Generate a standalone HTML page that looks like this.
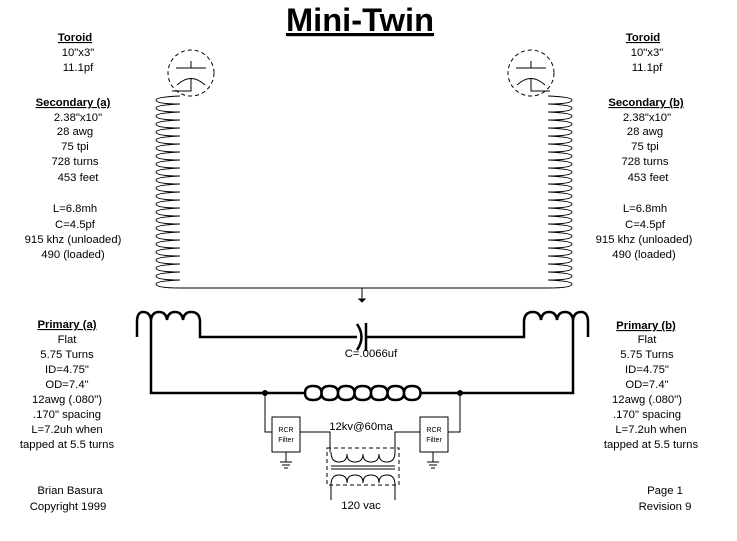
<!DOCTYPE html>
<html><head><meta charset="utf-8"><style>
body{margin:0;background:#fff;width:737px;height:541px;overflow:hidden;font-family:"Liberation Sans",Arial,sans-serif;}
svg{position:absolute;left:0;top:0}
.t{font-size:11.3px;fill:#000;text-anchor:middle}
.b{font-weight:bold;text-decoration:underline}
</style></head><body>
<svg width="737" height="541" viewBox="0 0 737 541" id="s">
<text x="360" y="31" text-anchor="middle" font-size="32" font-weight="bold" text-decoration="underline" textLength="148" lengthAdjust="spacingAndGlyphs">Mini-Twin</text>
<g class="t">
<text class="t b" x="75" y="41">Toroid</text>
<text class="t" x="78" y="56">10"x3"</text>
<text class="t" x="78" y="71">11.1pf</text>
<text class="t b" x="73" y="106">Secondary (a)</text>
<text class="t" x="78" y="121">2.38"x10"</text>
<text class="t" x="75" y="135">28 awg</text>
<text class="t" x="75" y="150">75 tpi</text>
<text class="t" x="75" y="165">728 turns</text>
<text class="t" x="78" y="181">453 feet</text>
<text class="t" x="75" y="212">L=6.8mh</text>
<text class="t" x="75" y="228">C=4.5pf</text>
<text class="t" x="73" y="243">915 khz (unloaded)</text>
<text class="t" x="73" y="258">490 (loaded)</text>
<text class="t b" x="67" y="328">Primary (a)</text>
<text class="t" x="67" y="343">Flat</text>
<text class="t" x="67" y="358">5.75 Turns</text>
<text class="t" x="67" y="373">ID=4.75"</text>
<text class="t" x="67" y="388">OD=7.4"</text>
<text class="t" x="67" y="403">12awg (.080")</text>
<text class="t" x="67" y="418">.170" spacing</text>
<text class="t" x="67" y="433">L=7.2uh when</text>
<text class="t" x="67" y="448">tapped at 5.5 turns</text>
<text class="t" x="70" y="494">Brian Basura</text>
<text class="t" x="68" y="510">Copyright 1999</text>

<text class="t b" x="643" y="41">Toroid</text>
<text class="t" x="647" y="56">10"x3"</text>
<text class="t" x="647" y="71">11.1pf</text>
<text class="t b" x="646" y="106">Secondary (b)</text>
<text class="t" x="647" y="121">2.38"x10"</text>
<text class="t" x="645" y="135">28 awg</text>
<text class="t" x="645" y="150">75 tpi</text>
<text class="t" x="645" y="165">728 turns</text>
<text class="t" x="648" y="181">453 feet</text>
<text class="t" x="645" y="212">L=6.8mh</text>
<text class="t" x="645" y="228">C=4.5pf</text>
<text class="t" x="644" y="243">915 khz (unloaded)</text>
<text class="t" x="644" y="258">490 (loaded)</text>
<text class="t b" x="646" y="329">Primary (b)</text>
<text class="t" x="647" y="343">Flat</text>
<text class="t" x="647" y="358">5.75 Turns</text>
<text class="t" x="647" y="373">ID=4.75"</text>
<text class="t" x="647" y="388">OD=7.4"</text>
<text class="t" x="647" y="403">12awg (.080")</text>
<text class="t" x="647" y="418">.170" spacing</text>
<text class="t" x="651" y="433">L=7.2uh when</text>
<text class="t" x="651" y="448">tapped at 5.5 turns</text>
<text class="t" x="665" y="494">Page 1</text>
<text class="t" x="665" y="510">Revision 9</text>

<text class="t" x="371" y="357">C=.0066uf</text>
<text class="t" x="361" y="430">12kv@60ma</text>
<text class="t" x="361" y="509">120 vac</text>
</g>
<g id="w" fill="none" stroke="#000" stroke-width="1">
<circle cx="191" cy="73" r="23" stroke-dasharray="4,3"/>
<path d="M176 68H206M191 61V68M177 85Q191 72 205 85M191 78V91H172"/>
<circle cx="531" cy="73" r="23" stroke-dasharray="4,3"/>
<path d="M516 68H546M531 61V68M517 85Q531 72 545 85M531 78V91H550"/>
<path d="M180 288H550"/>
<path d="M362 288V300M359 299L362 302L365 299Z" fill="#000"/>
</g>
<g fill="none" stroke="#000" stroke-width="2.5">
<path d="M137 337V322Q137 312 143 312Q150 312 151 320Q152 312 159 312Q166 312 167 320Q168 312 175 312Q182 312 183 320Q184 312 191 312Q200 312 200 322V337H357"/>
<path d="M151 320V393H305"/>
<path d="M357 324Q366 337 357 350"/>
<path d="M366 323V351"/>
<path d="M366 337H524V322Q524 312 533 312Q540 312 541 320Q542 312 549 312Q556 312 557 320Q558 312 565 312Q572 312 573 320Q574 312 581 312Q588 312 588 322V337"/>
<path d="M573 320V393H420"/>
<path id="ch" d=""/>
</g>
<g fill="none" stroke="#000" stroke-width="1">
<circle cx="265" cy="393" r="2.5" fill="#000"/>
<circle cx="460" cy="393" r="2.5" fill="#000"/>
<path d="M265 393V432H272M460 393V432H448"/>
<rect x="272" y="417" width="28" height="35"/>
<rect x="420" y="417" width="28" height="35"/>
<path d="M300 432H330V452M420 432H395V452"/>
<path d="M286 452V462M280 462H292M282 465H290M284 468H288"/>
<path d="M433 452V462M427 462H439M429 465H437M431 468H435"/>
<rect x="327" y="448" width="72" height="37" stroke-dasharray="4,3"/>
<path d="M331 452Q331 462 339 462Q347 462 347 454Q347 462 355 462Q363 462 363 454Q363 462 371 462Q379 462 379 454Q379 462 387 462Q395 462 395 452"/>
<path d="M331 466H395M331 469H395"/>
<path d="M331 485Q331 475 339 475Q347 475 347 483Q347 475 355 475Q363 475 363 483Q363 475 371 475Q379 475 379 483Q379 475 387 475Q395 475 395 485"/>
<path d="M331 485V500M395 485V500"/>
</g>
<text x="286" y="432" font-size="7" text-anchor="middle">RCR</text>
<text x="286" y="442" font-size="7" text-anchor="middle">Filter</text>
<text x="434" y="432" font-size="7" text-anchor="middle">RCR</text>
<text x="434" y="442" font-size="7" text-anchor="middle">Filter</text>
</svg>
<script>
var s=document.getElementById('s'),ns='http://www.w3.org/2000/svg';
function coil(xr,xl,y0,n,h){var d='';for(var i=0;i<n;i++){var y=y0+i*h;d+='M'+xr+' '+y+'Q'+xl+' '+(y+1)+' '+xl+' '+(y+h/2)+'Q'+xl+' '+(y+h)+' '+xr+' '+(y+h);}
var p=document.createElementNS(ns,'path');p.setAttribute('d',d);p.setAttribute('fill','none');p.setAttribute('stroke','#000');s.appendChild(p);}
coil(180,156,96,24,8);coil(548,572,96,24,8);
var d='M305 393';for(var i=0;i<7;i++){var x=305+i*16.5;d+='M'+x+' 393Q'+x+' 386 '+(x+8)+' 386Q'+(x+16.5)+' 386 '+(x+16.5)+' 393Q'+(x+16.5)+' 400 '+(x+8)+' 400Q'+x+' 400 '+x+' 393';}
document.getElementById('ch').setAttribute('d',d);
</script>
</body></html>
